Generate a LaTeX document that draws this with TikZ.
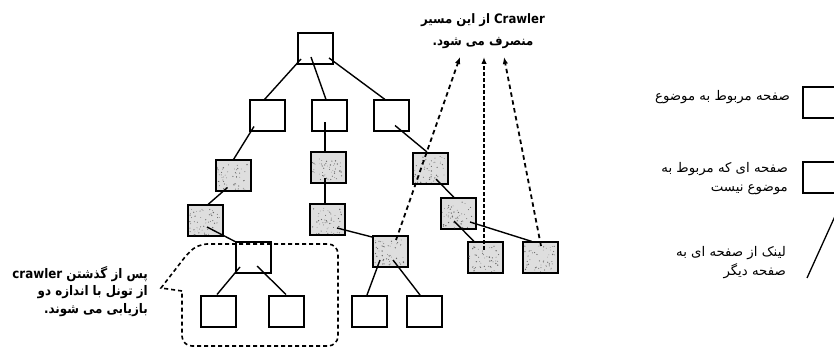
\documentclass[tikz,border=0pt]{standalone}
\usepackage{fontspec}
\setmainfont{DejaVu Sans}
\newfontfamily\fabold[Script=Arabic]{DejaVu Sans Condensed Bold}
\newfontfamily\faleg[Script=Arabic]{DejaVu Sans}
\TeXXeTstate=1
\usetikzlibrary{arrows.meta}

% scatter of small dark grains over a shaded page box
\newcommand\pagegrain[1]{%
  \foreach \k in {1,...,50}{%
    \fill[black!60] ([xshift={2.5pt+rnd*30pt},yshift={2.5pt+rnd*26pt}]#1.south west)
      circle[radius={0.3pt+rnd*0.45pt}];}}

\begin{document}
\begin{tikzpicture}[x=1pt,y=-1pt,
  page/.style={draw, line width=2pt, minimum width=35pt, minimum height=31pt,
               inner sep=0pt, fill=white},
  offtopic/.style={page, fill=black!13},
  link/.style={line width=1.4pt},
  deadend/.style={line width=1.8pt, dash pattern=on 4.5pt off 3.5pt,
                  -{Latex[length=7pt,width=5.5pt]}},
  callout/.style={line width=1.6pt, dash pattern=on 4pt off 3pt},
  calltext/.style={font=\fabold\fontsize{13.2}{17.5}\selectfont, align=right, inner sep=0pt},
  toptext/.style={font=\fabold\fontsize{13}{21.5}\selectfont, align=center, inner sep=0pt},
  legtext/.style={font=\faleg\fontsize{13.3}{19.5}\selectfont, align=right, inner sep=0pt}]
\useasboundingbox (0,0) rectangle (834,352);
\clip (0,0) rectangle (834,352);
\pgfmathsetseed{11}

% ---- pages of the crawl tree ----
\node[page]     (r)  at (315.5,48.5) {};
\node[page]     (a1) at (267.5,116) {};
\node[page]     (a2) at (329.5,116) {};
\node[page]     (a3) at (391,116) {};
\node[offtopic] (b1) at (233.5,176) {};
\node[offtopic] (b2) at (328.5,168) {};
\node[offtopic] (b3) at (430.5,168.5) {};
\node[offtopic] (c1) at (205.5,221) {};
\node[offtopic] (c2) at (327.5,220) {};
\node[offtopic] (c3) at (458,214) {};
\node[page]     (d1) at (253.5,258) {};
\node[offtopic] (d2) at (390.5,251.5) {};
\node[offtopic] (d3) at (485,258) {};
\node[offtopic] (d4) at (540.5,258) {};
\node[page]     (e1) at (218,311) {};
\node[page]     (e2) at (286,311) {};
\node[page]     (e3) at (369.5,311.5) {};
\node[page]     (e4) at (424,311.5) {};

\foreach \b in {b1,b2,b3,c1,c2,c3,d2,d3,d4}{\pagegrain{\b}}

% ---- links between pages ----
\draw[link] ([xshift=4pt,yshift=6pt]r.south west)   -- ([xshift=-3pt]a1.north);
\draw[link] ([xshift=14pt,yshift=8pt]r.south west)  -- ([xshift=-3.5pt]a2.north);
\draw[link] ([xshift=-5pt,yshift=7pt]r.south east)  -- ([xshift=-6pt]a3.north);
\draw[link] ([xshift=5pt,yshift=6pt]a1.south west)  -- (b1.north);
\draw[link] ([xshift=-4.5pt,yshift=10pt]a2.south)   -- ([xshift=-3.5pt]b2.north);
\draw[link] ([xshift=4pt,yshift=7pt]a3.south)       -- ([xshift=-3.5pt]b3.north);
\draw[link] ([xshift=-6pt,yshift=5pt]b1.south)      -- ([xshift=2.5pt]c1.north);
\draw[link] ([xshift=-3.5pt,yshift=6pt]b2.south)    -- ([xshift=-2.5pt]c2.north);
\draw[link] ([xshift=5.5pt,yshift=6pt]b3.south)     -- ([xshift=-4pt]c3.north);
\draw[link] ([xshift=1.5pt,yshift=-6pt]c1.center)   -- (d1.north west);
\draw[link] ([xshift=9.5pt,yshift=-8pt]c2.center)   -- ([yshift=-2pt]d2.north west);
\draw[link] ([xshift=-4pt,yshift=-7pt]c3.center)    -- ([xshift=-11pt]d3.north);
\draw[link] ([xshift=12pt,yshift=-8pt]c3.center)    -- ([xshift=-8.5pt]d4.north);
\draw[link] ([xshift=-13.5pt,yshift=-9pt]d1.center) -- ([xshift=-1pt]e1.north);
\draw[link] ([xshift=3.5pt,yshift=-8pt]d1.center)   -- (e2.north);
\draw[link] ([xshift=-10.5pt,yshift=-8.5pt]d2.center) -- ([xshift=-2.5pt]e3.north);
\draw[link] ([xshift=2.5pt,yshift=-8.5pt]d2.center) -- ([xshift=-4pt]e4.north);

% ---- abandoned paths ----
\node[toptext] (stop) at (483,31)
  {\beginR\beginL Crawler\endL{} از این مسیر\endR\\
   \beginR منصرف می شود\kern0pt.\endR};
\coordinate (t1) at (460,57);
\coordinate (t2) at (484,57);
\coordinate (t3) at (504,57);
\draw[deadend] ([xshift=5.5pt,yshift=11.5pt]d2.center) -- (t1);
\draw[deadend, dash pattern=on 3.5pt off 2.5pt] ([xshift=-1pt,yshift=8pt]d3.center) -- (t2);
\draw[deadend] ([xshift=0.5pt,yshift=12pt]d4.center) -- (t3);

% ---- tunnel of depth two ----
\draw[callout] (182,291) -- (161,288) -- (185,257)
  [rounded corners=10pt] -- (197,244) -- (338,244) -- (338,346) -- (182,346) -- (182,292);
\node[calltext, anchor=north east] (tunnel) at (148,266)
  {\beginR پس از گذشتن \beginL crawler\endL\endR\\
   \beginR از تونل با اندازه دو\endR\\
   \beginR بازیابی می شوند\kern0pt.\endR};

% ---- legend ----
\node[page, minimum width=37pt] (k1) at (821.5,102.5) {};
\node[page, minimum width=37pt] (k2) at (821.5,177.5) {};
\coordinate (k3a) at (807,278);
\coordinate (k3b) at (836,214);
\draw[line width=1.3pt] (k3a) -- (k3b);
\node[legtext, anchor=east] (l1) at (790,97) {\beginR صفحه مربوط به موضوع\endR};
\node[legtext, anchor=north east] (l2) at (788,162)
  {\beginR صفحه ای که مربوط به\endR\\ \beginR موضوع نیست\endR};
\node[legtext, anchor=north east] (l3) at (786,246)
  {\beginR لینک از صفحه ای به\endR\\ \beginR صفحه دیگر\endR};
\end{tikzpicture}
\end{document}
